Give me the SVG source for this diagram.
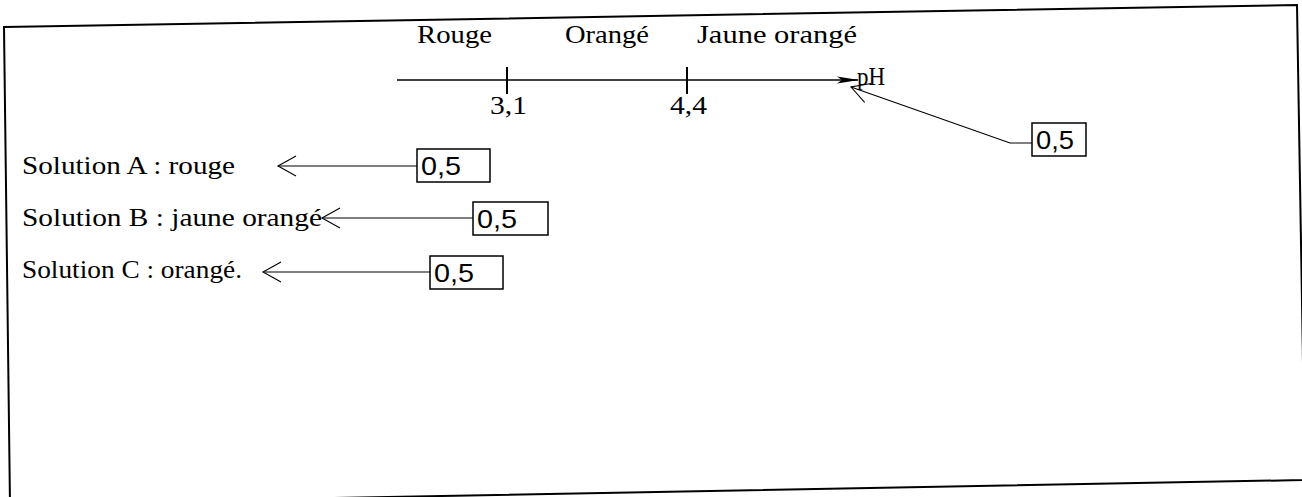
<svg xmlns="http://www.w3.org/2000/svg" width="1302" height="497" viewBox="0 0 1302 497">
<defs>
<marker id="fill" markerWidth="22" markerHeight="10" refX="21" refY="5" orient="auto" markerUnits="userSpaceOnUse"><path d="M0,1.5 L22,5 L0,8.5 L5,5 Z" fill="#000"/></marker>
<marker id="open" markerWidth="22" markerHeight="26" refX="20" refY="13" orient="auto" markerUnits="userSpaceOnUse"><path d="M2,3 L20,13 L2,23" fill="none" stroke="#000" stroke-width="1.1"/></marker>
</defs>
<style>
.t{font-family:"Liberation Serif","Times New Roman",serif;font-size:26px;fill:#000}
.s{font-family:"Liberation Sans",Arial,sans-serif;font-size:26px;fill:#000}
.b{fill:none;stroke:#000;stroke-width:1.5}
.c{fill:none;stroke:#000;stroke-width:1.2}
</style>
<rect width="1302" height="497" fill="#fff"/>
<path d="M4,27 L1297,5 L1305,480 L10,504 Z" fill="none" stroke="#000" stroke-width="2"/>
<g id="axis">
<line x1="397" y1="80" x2="858" y2="80" stroke="#000" stroke-width="1.5" marker-end="url(#fill)"/>
<line x1="507" y1="67" x2="507" y2="94" stroke="#000" stroke-width="2"/>
<line x1="687" y1="67" x2="687" y2="94" stroke="#000" stroke-width="2"/>
<text class="t" x="417" y="43" textLength="75" lengthAdjust="spacingAndGlyphs">Rouge</text>
<text class="t" x="565" y="43" textLength="84" lengthAdjust="spacingAndGlyphs">Orangé</text>
<text class="t" x="697" y="43" textLength="160" lengthAdjust="spacingAndGlyphs">Jaune orangé</text>
<text class="t" x="490" y="114" textLength="37" lengthAdjust="spacingAndGlyphs">3,1</text>
<text class="t" x="670" y="114" textLength="37" lengthAdjust="spacingAndGlyphs">4,4</text>
<text class="t" x="857" y="85" textLength="28" lengthAdjust="spacingAndGlyphs">pH</text>
</g>
<g id="solA"><text class="t" x="22" y="174" textLength="213" lengthAdjust="spacingAndGlyphs">Solution A : rouge</text></g>
<g id="solB"><text class="t" x="22" y="226" textLength="300" lengthAdjust="spacingAndGlyphs">Solution B : jaune orangé</text></g>
<g id="solC"><text class="t" x="22" y="278" textLength="220" lengthAdjust="spacingAndGlyphs">Solution C : orangé.</text></g>
<g id="boxPH"><rect class="b" x="1032" y="123" width="54" height="33"/><text class="s" x="1036" y="149" textLength="38" lengthAdjust="spacingAndGlyphs">0,5</text></g>
<g id="boxA"><rect class="b" x="417" y="149" width="73" height="33"/><text class="s" x="421" y="175" textLength="40" lengthAdjust="spacingAndGlyphs">0,5</text></g>
<g id="boxB"><rect class="b" x="473" y="202" width="75" height="33"/><text class="s" x="477" y="228" textLength="40" lengthAdjust="spacingAndGlyphs">0,5</text></g>
<g id="boxC"><rect class="b" x="430" y="256" width="73" height="33"/><text class="s" x="434" y="282" textLength="40" lengthAdjust="spacingAndGlyphs">0,5</text></g>
<g id="connectors">
<polyline class="c" points="1032,143 1010,143 851,87" marker-end="url(#open)"/>
<line class="c" x1="417" y1="166" x2="278" y2="166" marker-end="url(#open)"/>
<line class="c" x1="473" y1="218" x2="322" y2="218" marker-end="url(#open)"/>
<line class="c" x1="430" y1="272" x2="263" y2="272" marker-end="url(#open)"/>
</g>
</svg>
